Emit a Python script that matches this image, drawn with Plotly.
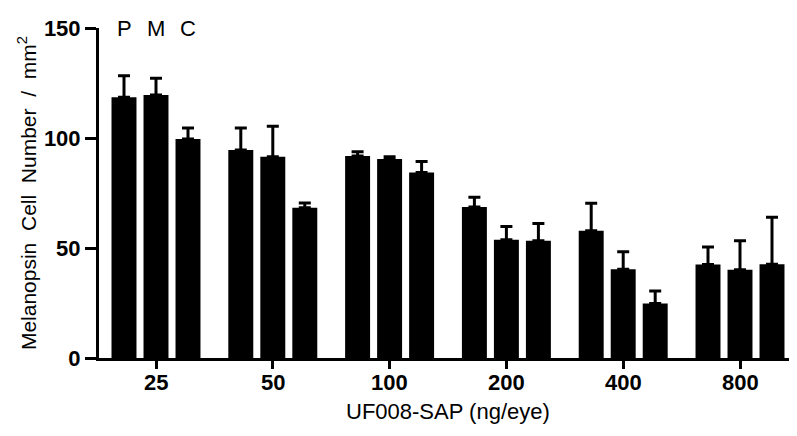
import plotly.graph_objects as go

doses = ["25", "50", "100", "200", "400", "800"]
series_names = ["P", "M", "C"]
p_vals = [118.5, 94.5, 91.8, 68.6, 57.8, 42.5]
p_err = [9.8, 10.1, 2.0, 4.5, 12.5, 8.0]
m_vals = [119.6, 91.5, 90.5, 53.8, 40.3, 40.1]
m_err = [7.6, 13.8, 1.0, 6.0, 8.0, 13.2]
c_vals = [99.5, 68.3, 84.3, 53.3, 24.8, 42.6]
c_err = [5.1, 2.2, 5.0, 7.8, 5.6, 21.4]
y_ticks = [0, 50, 100, 150]

x_title = "UF008-SAP (ng/eye)"
sp = "\u00a0 "
y_title = "Melanopsin" + sp + "Cell" + sp + "Number" + sp + "/" + sp + "mm<sup>2</sup>"

BARGAP = 0.178
positions = list(range(len(doses)))

fig = go.Figure()
for name, vals, err in zip(series_names, [p_vals, m_vals, c_vals], [p_err, m_err, c_err]):
    fig.add_trace(go.Bar(
        x=positions, y=vals, name=name,
        marker=dict(color="black", line=dict(width=0)),
        error_y=dict(type="data", symmetric=False, array=err,
                     arrayminus=[0] * len(err), color="black",
                     thickness=3, width=6),
    ))

font_family = "Liberation Sans, Arial, sans-serif"
slot = (1 - BARGAP) / 3
annotations = []
for i, name in enumerate(series_names):
    annotations.append(dict(
        x=positions[0] + (i - 1) * slot, y=y_ticks[-1], xref="x", yref="y",
        text=name, showarrow=False, xanchor="center", yanchor="middle",
        font=dict(family=font_family, size=22, color="black"),
    ))
for pos, lab in zip(positions, doses):
    annotations.append(dict(
        x=pos, y=-0.075, xref="x", yref="paper", text="<b>" + lab + "</b>",
        showarrow=False, xanchor="center", yanchor="middle",
        font=dict(family=font_family, size=22, color="black"),
    ))
annotations.append(dict(
    x=-0.103, y=0.5, xref="paper", yref="paper", text=y_title,
    textangle=-90, showarrow=False, xanchor="center", yanchor="middle",
    font=dict(family=font_family, size=21, color="black"),
))
annotations.append(dict(
    x=0.5, y=-0.162, xref="paper", yref="paper", text=x_title,
    showarrow=False, xanchor="center", yanchor="middle",
    font=dict(family=font_family, size=22, color="black"),
))

# the page body has an 8px margin, so margins are offset by 8px
fig.update_layout(
    width=797, height=436,
    margin=dict(l=91, r=8, t=17, b=86),
    paper_bgcolor="white", plot_bgcolor="white",
    barmode="group", bargap=BARGAP, bargroupgap=0.22,
    showlegend=False,
    annotations=annotations,
    xaxis=dict(
        range=[-0.488, 5.488], tickvals=positions, showticklabels=False,
        showline=True, linecolor="black", linewidth=3,
        ticks="outside", ticklen=8, tickwidth=3, tickcolor="black",
        showgrid=False, zeroline=False,
    ),
    yaxis=dict(
        range=[0, 150], tickvals=y_ticks,
        showline=True, linecolor="black", linewidth=3,
        ticks="outside", ticklen=11, tickwidth=3, tickcolor="black",
        showgrid=False, zeroline=False,
        tickfont=dict(family=font_family, size=22, color="black", weight="bold"),
    ),
)

fig.write_html("out.html")
